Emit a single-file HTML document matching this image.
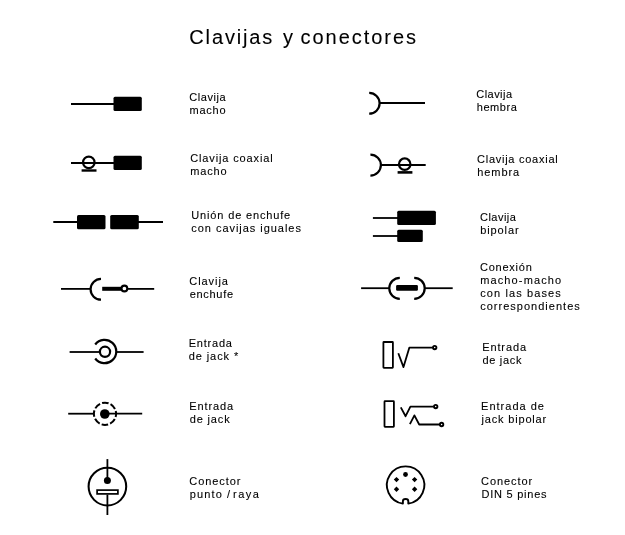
<!DOCTYPE html>
<html lang="es"><head><meta charset="utf-8"><title>Clavijas y conectores</title>
<style>
html,body{margin:0;padding:0;background:#fff;}
svg{display:block;will-change:transform}
text{font-family:"Liberation Sans",Arial,sans-serif;fill:#000;}
.l{font-size:11px;stroke:#000;stroke-width:0.1px}
.t{font-size:20px;stroke:#000;stroke-width:0.1px}
.s{stroke:#000;stroke-width:1.8;fill:none}
.c{stroke:#000;stroke-width:2.2;fill:none}
.f{fill:#000;stroke:none}
</style></head><body>
<svg width="625" height="535" viewBox="0 0 625 535">
<rect width="625" height="535" fill="#fff"/>
<text class="t" y="44.1"><tspan x="189.3" textLength="83" lengthAdjust="spacing">Clavijas</tspan> <tspan x="283" textLength="9" lengthAdjust="spacing">y</tspan> <tspan x="300.5" textLength="115.5" lengthAdjust="spacing">conectores</tspan></text>
<text class="l" x="189.3" y="100.7" textLength="36.3" lengthAdjust="spacing">Clavija</text>
<text class="l" x="189.6" y="113.7" textLength="36.0" lengthAdjust="spacing">macho</text>
<text class="l" x="190.2" y="161.7" textLength="82.5" lengthAdjust="spacing">Clavija coaxial</text>
<text class="l" x="190.2" y="174.7" textLength="36.5" lengthAdjust="spacing">macho</text>
<text class="l" x="191.3" y="218.7" textLength="98.9" lengthAdjust="spacing">Unión de enchufe</text>
<text class="l" x="191.3" y="231.7" textLength="109.6" lengthAdjust="spacing">con cavijas iguales</text>
<text class="l" x="189.3" y="284.7" textLength="38.6" lengthAdjust="spacing">Clavija</text>
<text class="l" x="189.7" y="297.7" textLength="43.3" lengthAdjust="spacing">enchufe</text>
<text class="l" x="188.7" y="346.7" textLength="43.2" lengthAdjust="spacing">Entrada</text>
<text class="l" x="188.7" y="359.7" textLength="49.5" lengthAdjust="spacing">de jack *</text>
<text class="l" x="189.3" y="409.7" textLength="43.7" lengthAdjust="spacing">Entrada</text>
<text class="l" x="189.7" y="422.7" textLength="40.0" lengthAdjust="spacing">de jack</text>
<text class="l" x="189.3" y="484.7" textLength="51.1" lengthAdjust="spacing">Conector</text>
<text class="l" x="189.7" y="497.7" textLength="32.1" lengthAdjust="spacing">punto</text>
<text class="l" x="227.0" y="497.7" textLength="4.0" lengthAdjust="spacing">/</text>
<text class="l" x="233.0" y="497.7" textLength="25.8" lengthAdjust="spacing">raya</text>
<text class="l" x="476.3" y="97.7" textLength="35.7" lengthAdjust="spacing">Clavija</text>
<text class="l" x="476.7" y="110.7" textLength="40.2" lengthAdjust="spacing">hembra</text>
<text class="l" x="477.0" y="162.7" textLength="80.7" lengthAdjust="spacing">Clavija coaxial</text>
<text class="l" x="477.2" y="175.7" textLength="42.0" lengthAdjust="spacing">hembra</text>
<text class="l" x="480.0" y="220.7" textLength="35.9" lengthAdjust="spacing">Clavija</text>
<text class="l" x="480.2" y="233.7" textLength="38.4" lengthAdjust="spacing">bipolar</text>
<text class="l" x="480.0" y="270.7" textLength="51.8" lengthAdjust="spacing">Conexión</text>
<text class="l" x="480.2" y="283.7" textLength="81.0" lengthAdjust="spacing">macho-macho</text>
<text class="l" x="480.2" y="296.7" textLength="80.6" lengthAdjust="spacing">con las bases</text>
<text class="l" x="480.2" y="309.7" textLength="99.6" lengthAdjust="spacing">correspondientes</text>
<text class="l" x="482.2" y="350.7" textLength="43.8" lengthAdjust="spacing">Entrada</text>
<text class="l" x="482.4" y="363.7" textLength="39.1" lengthAdjust="spacing">de jack</text>
<text class="l" x="481.1" y="409.7" textLength="62.8" lengthAdjust="spacing">Entrada de</text>
<text class="l" x="481.5" y="422.7" textLength="64.7" lengthAdjust="spacing">jack bipolar</text>
<text class="l" x="481.1" y="484.7" textLength="51.1" lengthAdjust="spacing">Conector</text>
<text class="l" x="481.5" y="497.7" textLength="65.0" lengthAdjust="spacing">DIN 5 pines</text>

<!-- 1L clavija macho -->
<path class="s" d="M71 104H114"/>
<rect class="f" x="113.5" y="96.8" width="28.3" height="14.2" rx="1.5"/>
<!-- 2L coaxial macho -->
<path class="s" d="M71 163H114"/>
<rect class="f" x="113.5" y="155.8" width="28.3" height="14.2" rx="1.5"/>
<circle class="c" cx="88.8" cy="162.4" r="5.75"/>
<path d="M81.6 170.5H96.5" stroke="#000" stroke-width="2.4" fill="none"/>
<!-- 3L union -->
<path class="s" d="M53.3 222H78M138 222H163"/>
<rect class="f" x="77" y="215" width="28.5" height="14.2" rx="1.5"/>
<rect class="f" x="110.2" y="215" width="28.6" height="14.2" rx="1.5"/>
<!-- 4L clavija enchufe -->
<path class="s" d="M61 288.9H90.6"/>
<path class="c" d="M101 278.9 A 10.4 10.4 0 0 0 101 299.7"/>
<path d="M102.2 288.8H122" stroke="#000" stroke-width="4" fill="none"/>
<circle cx="124.4" cy="288.5" r="2.9" stroke="#000" stroke-width="2.1" fill="#fff"/>
<path class="s" d="M128 288.9H154.2"/>
<!-- 5L entrada jack * -->
<path class="s" d="M69.6 352H99.5"/>
<circle class="c" cx="105" cy="351.8" r="5.1"/>
<path class="c" d="M95.2 344.5 A 11.7 11.7 0 1 1 95.2 358.5"/>
<path class="s" d="M116.3 352H143.6"/>
<!-- 6L entrada jack -->
<path class="s" d="M68.2 413.7H94"/>
<circle class="f" cx="104.8" cy="414" r="4.8"/>
<circle class="c" stroke-width="2" style="stroke-width:2" cx="105" cy="413.8" r="11.1" stroke-dasharray="6.6 2.118" stroke-dashoffset="3.3"/>
<path class="s" d="M108 413.7H142.2"/>
<!-- 7L punto raya -->
<circle class="c" style="stroke-width:2.05" cx="107.4" cy="486.6" r="18.8"/>
<path class="s" d="M107.4 459.1V480"/>
<circle class="f" cx="107.4" cy="480.5" r="3.5"/>
<rect x="97.1" y="490.1" width="20.8" height="3.8" stroke="#000" stroke-width="1.7" fill="#fff"/>
<path class="s" d="M107.4 494.6V515"/>

<!-- 1R hembra -->
<path class="c" d="M369.2 92.9 A 10.4 10.4 0 0 1 369.2 113.7"/>
<path class="s" d="M379.6 103H425"/>
<!-- 2R coaxial hembra -->
<path class="c" d="M370.4 154.6 A 10.5 10.5 0 0 1 370.4 175.6"/>
<path class="s" d="M380.9 165H425.7"/>
<circle class="c" cx="404.7" cy="164.2" r="5.75"/>
<path d="M397.6 172.4H412.4" stroke="#000" stroke-width="2.6" fill="none"/>
<!-- 3R bipolar -->
<path class="s" d="M372.9 218H398"/>
<rect class="f" x="397.2" y="210.7" width="38.7" height="14.2" rx="1.5"/>
<path class="s" d="M372.9 236H398"/>
<rect class="f" x="397.2" y="229.7" width="25.6" height="12.2" rx="1.5"/>
<!-- 4R macho-macho -->
<path class="s" d="M361.1 288.2H389.3"/>
<path class="c" d="M399.8 277.8 A 10.5 10.5 0 0 0 399.8 298.8"/>
<path class="c" d="M414.2 277.8 A 10.5 10.5 0 0 1 414.2 298.8"/>
<rect class="f" x="396.1" y="285" width="21.8" height="5.7" rx="1.2"/>
<path class="s" d="M424.7 288.2H452.7"/>
<!-- 5R entrada jack -->
<rect class="s" x="383.4" y="342" width="9.5" height="25.8" rx="0.5"/>
<path class="s" d="M398.3 353.3 L403.5 367.1 L409.3 347.7 H432.6" stroke-linejoin="round"/>
<circle cx="434.7" cy="347.6" r="1.7" stroke="#000" stroke-width="1.9" fill="#fff"/>
<!-- 6R jack bipolar -->
<rect class="s" x="384.5" y="401.2" width="9.4" height="25.6" rx="0.5"/>
<path class="s" d="M400.8 407.4 L405.6 416.2 L410.4 406.6 H433.7" stroke-linejoin="round"/>
<circle cx="435.7" cy="406.6" r="1.7" stroke="#000" stroke-width="1.9" fill="#fff"/>
<path class="s" d="M409.9 424.2 L414.4 415.4 L419.2 424.5 H439.6" stroke-linejoin="round"/>
<circle cx="441.6" cy="424.5" r="1.7" stroke="#000" stroke-width="1.9" fill="#fff"/>
<!-- 7R DIN -->
<path d="M402.9 503.6 A 18.7 18.7 0 1 1 408.3 503.6 V501.2 A 2.7 2.2 0 0 0 402.9 501.2 Z" stroke="#000" stroke-width="1.9" fill="none" stroke-linejoin="round"/>
<circle class="f" cx="405.5" cy="474.5" r="2.4"/>
<path class="f" d="M396.5 476.9l2.7 2.7l-2.7 2.7l-2.7-2.7z M414.6 476.9l2.7 2.7l-2.7 2.7l-2.7-2.7z M396.5 486.6l2.7 2.7l-2.7 2.7l-2.7-2.7z M414.6 486.6l2.7 2.7l-2.7 2.7l-2.7-2.7z"/>
</svg>
</body></html>
